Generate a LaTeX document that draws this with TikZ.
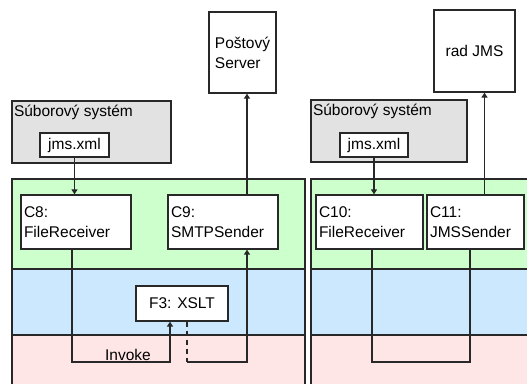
\documentclass[tikz,border=0pt]{standalone}
\usepackage{fontspec}
\setmainfont{Liberation Sans}
\usetikzlibrary{arrows.meta, positioning, calc}
\definecolor{lanegreen}{RGB}{204,255,204}
\definecolor{laneblue}{RGB}{204,232,255}
\definecolor{lanepink}{RGB}{255,230,230}
\definecolor{fsgray}{RGB}{226,226,226}
\definecolor{edge}{RGB}{40,40,40}

\begin{document}
\begin{tikzpicture}[x=1pt, y=-1pt, line width=1.3pt,
  font=\fontsize{15.5}{20}\selectfont,
  box/.style={draw=edge, fill=white, inner xsep=3pt, inner ysep=0pt, align=left},
  fsbox/.style={draw=edge, fill=fsgray, inner sep=0pt},
  flow/.style={-{Triangle[length=5pt,width=6pt]}, draw=edge}]
  \useasboundingbox (0,0) rectangle (527,383);

  % swimlanes, left and right panel
  \foreach \xa/\xb in {12/305, 311/530} {
    \fill[lanegreen] (\xa,179) rectangle (\xb,269);
    \fill[laneblue] (\xa,269) rectangle (\xb,335);
    \fill[lanepink] (\xa,335) rectangle (\xb,386);
    \draw[edge] (\xa,269) -- (\xb,269);
    \draw[edge] (\xa,335) -- (\xb,335);
  }
  \draw[edge] (12,386) -- (12,179) -- (305,179) -- (305,386);
  \draw[edge] (311,386) -- (311,179) -- (530,179);

  % file systems
  \node[fsbox, minimum width=159, minimum height=62] (fs1) at (91.5,132) {};
  \node[anchor=north west, inner sep=0pt] (fs1lbl) at ([shift={(2,4)}]fs1.north west) {Súborový systém};
  \node[box, align=center, inner xsep=0pt, minimum width=69, minimum height=24] (jms1) at (74.5,145) {jms.xml};
  \node[fsbox, minimum width=156, minimum height=62] (fs2) at (389,131) {};
  \node[anchor=north west, inner sep=0pt] (fs2lbl) at ([shift={(2,4)}]fs2.north west) {Súborový systém};
  \node[box, align=center, inner xsep=0pt, minimum width=68, minimum height=24] (jms2) at (374,145) {jms.xml};

  % external targets
  \node[box, minimum width=67, minimum height=81] (post) at (242.5,52.5) {Poštový\\Server};
  \node[box, align=center, minimum width=81, minimum height=82] (radjms) at (474.5,51) {rad JMS};

  % components
  \node[box, text width=104, minimum height=54] (c8) at (76,222) {C8:\\FileReceiver};
  \node[box, text width=104, minimum height=54] (c9) at (223,222) {C9:\\SMTPSender};
  \node[box, text width=101, minimum height=54] (c10) at (369.5,222) {C10:\\FileReceiver};
  \node[box, text width=91, minimum height=54] (c11) at (475.5,222) {C11:\\JMSSender};
  \node[box, align=center, minimum width=92, minimum height=35] (f3) at (182,303.5) {F3: XSLT};

  % connectors
  \draw[flow] (jms1.south) -- (jms1.south |- c8.north);
  \draw[flow] (jms2.south) -- (jms2.south |- c10.north);
  \coordinate (postin) at ([xshift=4.5]post.south);
  \draw[flow] (c9.north -| postin) -- (postin);
  \coordinate (radin) at ([xshift=10]radjms.south);
  \draw[flow] (c11.north -| radin) -- (radin);

  \coordinate (c8out) at ([xshift=-4]c8.south);
  \coordinate (f3in) at ([xshift=-12]f3.south);
  \coordinate (f3out) at ([xshift=5]f3.south);
  \coordinate (c9in) at ([xshift=24]c9.south);
  \draw[flow] (c8out) -- (c8out |- 0,362) -- (f3in |- 0,362) -- (f3in);
  \node[anchor=south, inner sep=1pt] (invoke) at (128,362) {Invoke};
  \draw[edge, dashed, dash pattern=on 5pt off 4pt] (f3out) -- (f3out |- 0,362);
  \draw[flow] (f3out |- 0,362) -- (c9in |- 0,362) -- (c9in);

  \coordinate (c10out) at ([xshift=2.5]c10.south);
  \coordinate (c11in) at ([xshift=-5.5]c11.south);
  \draw[edge] (c10out) -- (c10out |- 0,362) -- (c11in |- 0,362) -- (c11in);
\end{tikzpicture}
\end{document}
